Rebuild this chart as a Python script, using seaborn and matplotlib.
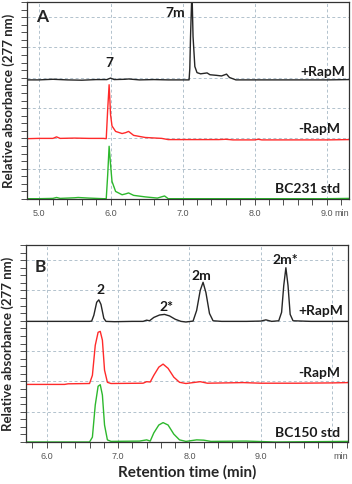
import numpy as np
import pandas as pd
import matplotlib
matplotlib.use('Agg')
import matplotlib.pyplot as plt
from matplotlib.ticker import MultipleLocator
import seaborn as sns

# ---- panel A : BC231 ----
a_time_plus = [4.84, 5.0, 5.2, 5.4, 5.6, 5.8, 5.95, 6.0, 6.05, 6.2, 6.25, 6.4, 6.6, 6.8, 7.0,
               7.09, 7.10, 7.11, 7.13, 7.145, 7.17, 7.20, 7.25, 7.34, 7.38, 7.47, 7.54, 7.61,
               7.65, 7.74, 8.0, 8.5, 9.0, 9.31]
a_plus = [3.93, 3.93, 3.95, 3.93, 3.92, 3.94, 3.94, 3.99, 3.94, 3.95, 3.96, 3.93, 3.94, 3.93, 3.93,
          3.93, 4.30, 5.36, 6.90, 5.36, 4.37, 4.17, 4.13, 4.16, 4.10, 4.08, 4.06, 4.12,
          4.01, 3.93, 3.93, 3.93, 3.93, 3.94]
a_time_minus = [4.84, 5.0, 5.2, 5.25, 5.3, 5.5, 5.7, 5.9, 5.94, 5.96, 5.98, 6.0, 6.02, 6.07, 6.16,
                6.21, 6.25, 6.32, 6.48, 6.71, 6.8, 7.0, 7.5, 7.6, 7.7, 8.0, 8.05, 8.1, 8.5, 9.0, 9.31]
a_minus = [1.99, 2.0, 2.0, 2.05, 2.0, 2.01, 2.0, 2.0, 1.99, 2.95, 3.77, 2.78, 2.41, 2.23, 2.16,
           2.19, 2.23, 2.10, 2.03, 2.0, 1.96, 1.96, 1.96, 1.97, 1.95, 1.95, 1.97, 1.95, 1.95, 1.95, 1.96]
a_time_std = [4.84, 5.0, 5.2, 5.25, 5.3, 5.5, 5.55, 5.7, 5.9, 5.94, 5.96, 5.98, 6.0, 6.02, 6.07,
              6.16, 6.21, 6.25, 6.32, 6.48, 6.65, 6.72, 6.75, 6.8, 7.0, 7.5, 8.0, 8.5, 9.0, 9.31]
a_std = [0.01, 0.01, 0.02, 0.05, 0.02, 0.04, 0.05, 0.03, 0.01, 0.01, 0.79, 1.74, 1.13, 0.58, 0.25,
         0.14, 0.17, 0.20, 0.12, 0.07, 0.03, 0.08, 0.10, 0.01, 0.01, 0.01, 0.01, 0.01, 0.01, 0.02]

# ---- panel B : BC150 ----
b_time_plus = [5.71, 6.0, 6.3, 6.6, 6.63, 6.66, 6.70, 6.73, 6.76, 6.80, 6.83, 6.95, 7.2, 7.35, 7.40,
               7.44, 7.50, 7.58, 7.65, 7.72, 7.80, 7.88, 7.95, 8.05, 8.10, 8.15, 8.19, 8.23, 8.28,
               8.33, 8.45, 8.8, 9.0, 9.07, 9.15, 9.25, 9.29, 9.32, 9.35, 9.38, 9.41, 9.45, 9.7, 10.0, 10.22]
b_plus = [3.98, 3.98, 3.98, 3.98, 3.99, 4.18, 4.61, 4.69, 4.54, 4.08, 3.98, 3.97, 3.98, 3.98, 4.02,
          4.00, 4.11, 4.19, 4.21, 4.16, 4.05, 3.98, 3.96, 3.99, 4.34, 5.00, 5.27, 4.93, 4.24,
          4.00, 3.98, 3.98, 3.99, 4.03, 3.98, 4.00, 4.28, 5.16, 5.75, 5.16, 4.21, 4.00, 3.98, 3.98, 3.98]
b_time_minus = [5.71, 6.0, 6.25, 6.3, 6.6, 6.64, 6.68, 6.72, 6.75, 6.78, 6.81, 6.85, 6.9, 7.35, 7.40,
                7.45, 7.50, 7.57, 7.63, 7.70, 7.78, 7.86, 7.95, 8.15, 8.25, 8.75, 9.0, 9.5, 10.0, 10.22]
b_minus = [1.90, 1.90, 1.90, 1.92, 1.93, 2.20, 3.19, 3.62, 3.65, 3.36, 2.37, 1.97, 1.93, 1.94, 1.99,
           1.98, 2.20, 2.47, 2.57, 2.43, 2.14, 1.97, 1.93, 1.99, 1.94, 1.96, 1.94, 1.94, 1.95, 1.96]
b_time_std = [5.71, 6.3, 6.6, 6.64, 6.68, 6.72, 6.75, 6.78, 6.81, 6.85, 6.9, 7.3, 7.40, 7.45, 7.50,
              7.57, 7.63, 7.70, 7.78, 7.86, 7.95, 8.10, 8.20, 8.30, 8.75, 8.8, 9.2, 9.7, 10.22]
b_std = [0.0, 0.0, 0.0, 0.16, 1.22, 1.84, 1.89, 1.55, 0.56, 0.07, 0.02, 0.03, 0.07, 0.03, 0.30,
         0.56, 0.64, 0.56, 0.26, 0.07, 0.02, 0.07, 0.06, 0.02, 0.03, 0.03, 0.0, 0.01, 0.02]

trace_names = ['+RapM', '-RapM', 'std']
trace_colors = ['#262626', '#ff2a2a', '#2db82d']

sns.set_style('white')
plt.rcParams['font.family'] = ['Lato', 'DejaVu Sans']


def make_df(times, values):
    parts = []
    for name, t, v in zip(trace_names, times, values):
        parts.append(pd.DataFrame({'time': t, 'signal': v, 'trace': name}))
    return pd.concat(parts, ignore_index=True)


df_a = make_df([a_time_plus, a_time_minus, a_time_std], [a_plus, a_minus, a_std])
df_b = make_df([b_time_plus, b_time_minus, b_time_std], [b_plus, b_minus, b_std])

fig = plt.figure(figsize=(3.52, 4.84), dpi=100)
ax_a = fig.add_axes([27 / 352, 1 - 199 / 484, 322 / 352, 197 / 484])
ax_b = fig.add_axes([26 / 352, 1 - 442 / 484, 322 / 352, 197 / 484])

tick_font = dict(family='Liberation Sans', size=6.5, color='#555555')


def style_panel(ax, df, xlim, xticks, xlabels, min_x):
    sns.lineplot(data=df, x='time', y='signal', hue='trace', palette=trace_colors,
                 hue_order=trace_names, estimator=None, sort=False, lw=1.0,
                 legend=False, ax=ax)
    ax.set_xlim(*xlim)
    ax.set_ylim(0, 6.5)
    ax.set_xticks(xticks)
    ax.set_xticklabels(xlabels, **tick_font)
    ax.xaxis.set_minor_locator(MultipleLocator(0.2))
    ax.yaxis.set_major_locator(MultipleLocator(1))
    ax.yaxis.set_minor_locator(MultipleLocator(0.25))
    ax.set_yticklabels([])
    ax.tick_params(which='both', bottom=True, left=True, direction='out',
                   length=4, width=0.6, color='#333333', pad=3)
    ax.grid(True, which='major', ls=(0, (3, 2.5)), color='#b2c2cd', lw=0.7)
    ax.set_axisbelow(True)
    for sp in ax.spines.values():
        sp.set_color('#333333')
        sp.set_linewidth(0.9)
    ax.set_xlabel('')
    ax.set_ylabel('Relative absorbance (277 nm)', fontsize=9.5, fontweight='bold')
    ax.yaxis.set_label_coords(-0.037, 0.5)
    ax.annotate('min', xy=(min_x, 0), xycoords=('data', 'axes fraction'),
                xytext=(0, -7), textcoords='offset points', ha='left', va='top',
                annotation_clip=False, **tick_font)


style_panel(ax_a, df_a, (4.84, 9.31), [5, 6, 7, 8, 9], ['5.0', '6.0', '7.0', '8.0', '9.0'], 9.105)
style_panel(ax_b, df_b, (5.71, 10.22), [6, 7, 8, 9, 10], ['6.0', '7.0', '8.0', '9.0', ''], 10.01)

lab = dict(fontsize=10, fontweight='bold', color='#1a1a1a')

# panel A texts
ax_a.text(0.046, 0.925, 'A', transform=ax_a.transAxes, ha='center', va='center',
          fontsize=12.5, fontweight='bold')
ax_a.text(5.99, 4.37, '7', ha='center', va='baseline', **lab)
ax_a.text(6.90, 6.02, '7m', ha='center', va='baseline', **lab)
ax_a.text(0.988, 4.06, '+RapM', transform=ax_a.get_yaxis_transform(), ha='right', va='baseline', **lab)
ax_a.text(0.973, 2.17, '-RapM', transform=ax_a.get_yaxis_transform(), ha='right', va='baseline', **lab)
ax_a.text(0.973, 0.19, 'BC231 std', transform=ax_a.get_yaxis_transform(), ha='right', va='baseline', **lab)

# panel B texts
ax_b.text(0.043, 0.89, 'B', transform=ax_b.transAxes, ha='center', va='center',
          fontsize=12.5, fontweight='bold')
ax_b.text(6.75, 4.89, '2', ha='center', va='baseline', **lab)
ax_b.text(7.68, 4.32, '2*', ha='center', va='baseline', **lab)
ax_b.text(8.17, 5.35, '2m', ha='center', va='baseline', **lab)
ax_b.text(9.34, 5.86, '2m*', ha='center', va='baseline', **lab)
ax_b.text(0.984, 4.18, '+RapM', transform=ax_b.get_yaxis_transform(), ha='right', va='baseline', **lab)
ax_b.text(0.975, 2.13, '-RapM', transform=ax_b.get_yaxis_transform(), ha='right', va='baseline', **lab)
ax_b.text(0.975, 0.17, 'BC150 std', transform=ax_b.get_yaxis_transform(), ha='right', va='baseline', **lab)

ax_b.set_xlabel('Retention time (min)', fontsize=11, fontweight='bold', labelpad=3)

fig.savefig('out.png', dpi=100)
